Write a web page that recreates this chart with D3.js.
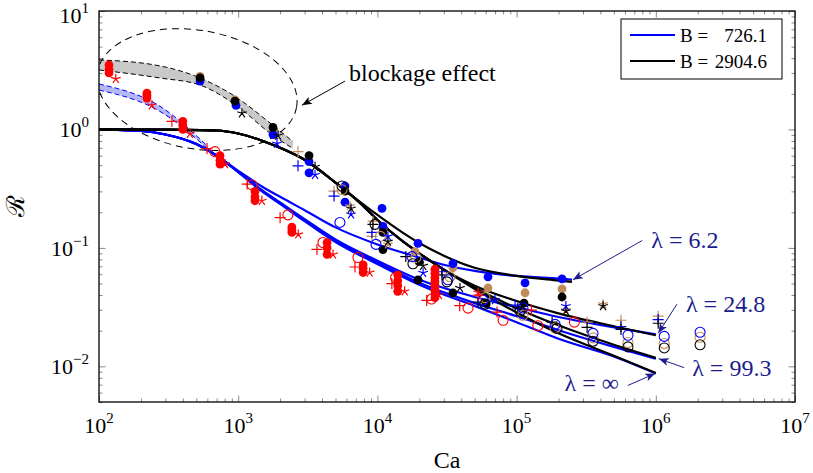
<!DOCTYPE html>
<html>
<head>
<meta charset="utf-8">
<script src="https://cdn.jsdelivr.net/npm/d3@7"></script>
<style>
body { margin: 0; background: #fff; }
svg text { font-family: "Liberation Serif", "Times New Roman", serif; }
</style>
</head>
<body>
<div id="chart"></div>
<script>
// axis ticks
var xMajor = [1e2, 1e3, 1e4, 1e5, 1e6, 1e7];
var yMajor = [1e-2, 1e-1, 1e0, 1e1];
var xExp = ["2", "3", "4", "5", "6", "7"];
var yExp = ["\u22122", "\u22121", "0", "1"];

// model curves [Ca, R], B = 726.1 (blue)
var blue62 = [[1e2,1],[2e2,0.97],[3e2,0.906],[5e2,0.752],[7e2,0.60],[1e3,0.447],[1.5e3,0.327],[2e3,0.27],[3e3,0.208],[5e3,0.149],[1e4,0.107],[2e4,0.083],[3e4,0.072],[5e4,0.064],[1e5,0.058],[2e5,0.055],[2.5e5,0.054]];
var blue248 = [[1e2,1],[2e2,0.97],[3e2,0.906],[5e2,0.752],[7e2,0.60],[1e3,0.44],[1.5e3,0.304],[2e3,0.242],[3e3,0.175],[5e3,0.118],[1e4,0.078],[2e4,0.054],[5e4,0.0385],[1e5,0.0316],[2e5,0.0261],[5e5,0.0213],[1e6,0.0186]];
var blue993 = [[1e2,1],[2e2,0.97],[3e2,0.906],[5e2,0.752],[7e2,0.60],[1e3,0.438],[1.5e3,0.300],[2e3,0.238],[3e3,0.171],[5e3,0.115],[1e4,0.075],[2e4,0.0507],[5e4,0.0342],[1e5,0.0265],[2e5,0.0202],[5e5,0.0146],[1e6,0.0116]];
var blueInf = [[1e2,1],[2e2,0.97],[3e2,0.906],[5e2,0.752],[7e2,0.60],[1e3,0.436],[1.5e3,0.297],[2e3,0.235],[3e3,0.168],[5e3,0.112],[1e4,0.073],[2e4,0.0488],[5e4,0.0323],[1e5,0.0236],[2e5,0.0171],[5e5,0.0121],[1e6,0.0087]];

// model curves, B = 2904.6 (black)
var black62 = [[1e2,1],[3e2,0.995],[7e2,0.98],[1e3,0.924],[1.5e3,0.80],[2e3,0.70],[3e3,0.555],[5e3,0.356],[7.5e3,0.245],[1e4,0.19],[1.5e4,0.136],[2e4,0.11],[3e4,0.086],[5e4,0.068],[1e5,0.058],[2e5,0.053],[2.5e5,0.0516]];
var black248 = [[1e2,1],[3e2,0.995],[7e2,0.98],[1e3,0.924],[1.5e3,0.80],[2e3,0.70],[3e3,0.555],[5e3,0.356],[7.5e3,0.24],[1e4,0.172],[1.5e4,0.115],[2e4,0.09],[3e4,0.0655],[5e4,0.048],[1e5,0.0356],[2e5,0.028],[5e5,0.0218],[1e6,0.0183]];
var black993 = [[1e2,1],[3e2,0.995],[7e2,0.98],[1e3,0.924],[1.5e3,0.80],[2e3,0.70],[3e3,0.555],[5e3,0.356],[7.5e3,0.24],[1e4,0.172],[1.5e4,0.115],[2e4,0.09],[3e4,0.0655],[5e4,0.046],[1e5,0.031],[2e5,0.0222],[5e5,0.0152],[1e6,0.0118]];
var blackInf = [[1e2,1],[3e2,0.995],[7e2,0.98],[1e3,0.924],[1.5e3,0.80],[2e3,0.70],[3e3,0.555],[5e3,0.356],[7.5e3,0.24],[1e4,0.172],[1.5e4,0.115],[2e4,0.09],[3e4,0.0655],[5e4,0.045],[1e5,0.0285],[2e5,0.019],[5e5,0.0123],[1e6,0.0088]];

// blockage bands (dashed)
var grayUpper = [[1e2,3.87],[274,3.44],[532,2.72],[918,1.95],[1780,1.08],[2476,0.79]];
var grayLower = [[1e2,3.18],[274,2.72],[532,2.37],[918,1.67],[1780,0.89],[2476,0.69]];
var blueUpper = [[1e2,2.42],[274,1.57],[597,0.73]];
var blueLower = [[1e2,2.15],[274,1.42],[627,0.66]];

// experiments, B = 726.1 (red)
var redDot = [[118,3.5],[118,3.2],[118,3.0],[221,2.03],[221,1.93],[221,1.84],[400,1.17],[400,1.08],[400,1.0],[740,0.60],[740,0.55],[740,0.51],[1320,0.30],[1320,0.27],[1320,0.25],[2430,0.15],[2430,0.142],[2430,0.135],[4350,0.111],[4350,0.1],[4350,0.088],[7900,0.072],[7900,0.067],[7900,0.062],[14000,0.059],[14000,0.053],[14000,0.048],[14000,0.043],[25900,0.066],[25900,0.061],[25900,0.056],[25900,0.052],[25900,0.048],[25900,0.044],[25900,0.041],[25900,0.038]];
var redCircle = [[680,0.65],[1255,0.34],[2275,0.19],[4060,0.111],[7250,0.083],[13500,0.056],[24500,0.037],[44800,0.031],[80000,0.0245],[142000,0.022],[260000,0.0236]];
var redPlus = [[334,1.17],[597,0.689],[1160,0.346],[2000,0.18],[3680,0.097],[6900,0.069],[12700,0.05],[22600,0.036],[39000,0.0325],[53000,0.04],[72300,0.0287],[128000,0.0298]];
var redStar = [[132,2.67],[240,1.6],[450,0.92],[804,0.51],[1480,0.25],[2700,0.13],[4800,0.088],[8800,0.062],[15700,0.043],[27700,0.04],[53000,0.042]];

// experiments, B = 2904.6
var brownDot = [[532,2.8],[948,1.78],[1778,0.98],[10960,0.145],[18600,0.093],[34900,0.068],[62300,0.0459],[115000,0.0418],[212000,0.045]];
var blueDot = [[532,2.56],[964,1.60],[1778,0.906],[3228,0.534],[3228,0.43],[5850,0.333],[5850,0.243],[10790,0.216],[10960,0.152],[19580,0.109],[34900,0.0735],[62300,0.057],[115000,0.0507],[212000,0.0548]];
var blackDot = [[532,2.72],[948,1.73],[1778,1.04],[3228,0.60],[5850,0.302],[10960,0.135],[10960,0.0968],[19900,0.0765],[19580,0.0538],[34900,0.0416],[60200,0.0342],[113000,0.0342],[212000,0.0385]];
var blackStar = [[1064,1.37],[1932,0.889],[3565,0.484],[6460,0.215],[11900,0.113],[21300,0.0707],[39200,0.0459],[226000,0.0292],[418000,0.0323]];
var blueStar = [[1900,0.76],[3565,0.414],[6460,0.192],[11900,0.125],[21300,0.0616],[70000,0.0363],[226000,0.0323]];
var brownStar = [[6350,0.225],[11900,0.107],[226000,0.0298],[418000,0.0335]];
var blackPlus = [[9290,0.158],[16000,0.0844],[29100,0.0592],[52800,0.0348],[102000,0.0311],[180000,0.0236],[321000,0.0213],[562000,0.0205],[1.04e6,0.0231]];
var bluePlus = [[2690,0.493],[4880,0.274],[9140,0.135],[29100,0.0629],[97500,0.0329],[562000,0.0217],[1.04e6,0.0248]];
var brownPlus = [[2690,0.65],[4880,0.302],[9290,0.168],[9140,0.125],[321000,0.0236],[562000,0.0245],[1.04e6,0.0265]];
var blackCircle = [[5570,0.333],[9610,0.158],[18000,0.0735],[31600,0.0517],[59300,0.0335],[106000,0.0292],[195000,0.0209],[354000,0.0163],[631000,0.0146],[1.15e6,0.0143],[2.08e6,0.0152]];
var blueCircle = [[5380,0.164],[9770,0.107],[17700,0.0844],[32100,0.0538],[57400,0.0363],[111000,0.0311],[189000,0.0226],[354000,0.019],[631000,0.0183],[1.15e6,0.0179],[2.08e6,0.0194]];
var brownCircle = [[5570,0.31],[10500,0.125],[18900,0.0828],[33200,0.057],[59300,0.038],[111000,0.027],[189000,0.021],[354000,0.0174],[631000,0.0159],[1.15e6,0.0156],[2.08e6,0.0176]];

var legendItems = [["#0000ff", "726.1"], ["#000000", "2904.6"]];

var BROWN = "#c08c5c", NAVY = "#1c1c8e";
var SERIF = "Liberation Serif, Times New Roman, serif";

var width = 813, height = 473;
var mLeft = 99, mRight = 795, mTop = 11, mBottom = 402;

var svg = d3.select("#chart").append("svg")
  .attr("width", width)
  .attr("height", height)
  .attr("font-family", SERIF);

var x = d3.scaleLog().domain([1e2, 1e7]).range([mLeft, mRight]);
var y = d3.scaleLog().domain([5e-3, 10]).range([mBottom, mTop]);

var defs = svg.append("defs");
defs.append("clipPath").attr("id", "clip")
  .append("rect").attr("x", mLeft).attr("y", mTop)
  .attr("width", mRight - mLeft).attr("height", mBottom - mTop);

function arrowHead(id, color) {
  defs.append("marker")
    .attr("id", id)
    .attr("viewBox", "0 0 10 8")
    .attr("refX", 10).attr("refY", 4)
    .attr("markerWidth", 11).attr("markerHeight", 8)
    .attr("markerUnits", "userSpaceOnUse")
    .attr("orient", "auto")
    .append("path").attr("d", "M0,0L10,4L0,8L2.5,4Z").attr("fill", color);
}
arrowHead("arrNavy", NAVY);
arrowHead("arrBlack", "#000");

// minor ticks
function minors(lo, hi) {
  var out = [];
  for (var k = -3; k < 7; k++) {
    for (var m = 2; m < 10; m++) {
      var v = m * Math.pow(10, k);
      if (v >= lo * 0.999 && v <= hi * 1.001) out.push(v);
    }
  }
  return out;
}
var xMinor = minors(1e2, 1e7), yMinor = minors(5e-3, 10);

function tickAxis(axisFn, scale, pos, vals, size) {
  var g = svg.append("g")
    .attr("transform", pos)
    .call(axisFn(scale).tickValues(vals).tickSize(-size).tickFormat(""));
  g.select(".domain").remove();
  g.selectAll(".tick line").attr("stroke", "#8a8a8a").attr("stroke-width", 1);
}
[[d3.axisBottom, x, "translate(0," + mBottom + ")"],
 [d3.axisTop, x, "translate(0," + mTop + ")"],
 [d3.axisLeft, y, "translate(" + mLeft + ",0)"],
 [d3.axisRight, y, "translate(" + mRight + ",0)"]].forEach(function(a) {
  var isX = a[1] === x;
  tickAxis(a[0], a[1], a[2], isX ? xMajor : yMajor, 6.5);
  tickAxis(a[0], a[1], a[2], isX ? xMinor : yMinor, 3.5);
});

// tick labels with superscripts
xMajor.forEach(function(v, i) {
  var t = svg.append("text")
    .attr("x", x(v)).attr("y", 433)
    .attr("text-anchor", "middle")
    .attr("font-size", 22);
  t.append("tspan").text("10");
  t.append("tspan").attr("dy", -10).attr("font-size", 15).text(xExp[i]);
});
yMajor.forEach(function(v, i) {
  var t = svg.append("text")
    .attr("x", 89).attr("y", Math.max(y(v) + 8, 23))
    .attr("text-anchor", "end")
    .attr("font-size", 22);
  t.append("tspan").text("10");
  t.append("tspan").attr("dy", -10).attr("font-size", 15).text(yExp[i]);
});

svg.append("text")
  .attr("x", (mLeft + mRight) / 2).attr("y", 468)
  .attr("text-anchor", "middle").attr("font-size", 24)
  .text("Ca");
svg.append("text")
  .attr("transform", "translate(24,206) rotate(-90)")
  .attr("text-anchor", "middle").attr("font-size", 25)
  .text("\u211B");

var plot = svg.append("g").attr("clip-path", "url(#clip)");

var line = d3.line()
  .x(function(d) { return x(d[0]); })
  .y(function(d) { return y(d[1]); })
  .curve(d3.curveMonotoneX);

function band(up, lo, fill, stroke) {
  var d = line(up) + "L" + line(lo.slice().reverse()).slice(1) + "Z";
  plot.append("path").attr("d", d).attr("fill", fill).attr("stroke", "none");
  [up, lo].forEach(function(s) {
    plot.append("path").attr("d", line(s))
      .attr("fill", "none").attr("stroke", stroke)
      .attr("stroke-width", 1).attr("stroke-dasharray", "5,3");
  });
}
band(grayUpper, grayLower, "#c9c9c9", "#000");
band(blueUpper, blueLower, "#b4b8f4", "#0000ff");

// blockage ellipse
var ell = {center: [506, 2.17], rx: 0.726, ry: 0.5, angle: 10};
var ecx = x(ell.center[0]), ecy = y(ell.center[1]);
plot.append("ellipse")
  .attr("cx", 0).attr("cy", 0)
  .attr("rx", x(Math.pow(10, 2 + ell.rx)) - x(1e2))
  .attr("ry", y(1) - y(Math.pow(10, ell.ry)))
  .attr("transform", "translate(" + ecx + "," + ecy + ") rotate(" + ell.angle + ")")
  .attr("fill", "none").attr("stroke", "#000")
  .attr("stroke-width", 1).attr("stroke-dasharray", "7,5");

[blue62, blue248, blue993, blueInf].forEach(function(s) {
  plot.append("path").attr("d", line(s))
    .attr("fill", "none").attr("stroke", "#0000ff").attr("stroke-width", 2.2);
});
[black62, black248, black993, blackInf].forEach(function(s) {
  plot.append("path").attr("d", line(s))
    .attr("fill", "none").attr("stroke", "#000").attr("stroke-width", 2.2);
});

// markers
var starPath = d3.range(5).map(function(i) {
  var a = -Math.PI / 2 + i * 2 * Math.PI / 5;
  return "M0,0L" + (5 * Math.cos(a)).toFixed(2) + "," + (5 * Math.sin(a)).toFixed(2);
}).join("");

function marks(data, kind, color) {
  var g = svg.append("g");
  var sel = g.selectAll(".m").data(data).enter();
  if (kind === "dot") {
    sel.append("circle").attr("r", 4.4).attr("fill", color)
      .attr("cx", function(d) { return x(d[0]); })
      .attr("cy", function(d) { return y(d[1]); });
  } else if (kind === "circle") {
    sel.append("circle").attr("r", 5).attr("fill", "none")
      .attr("stroke", color).attr("stroke-width", 1.1)
      .attr("cx", function(d) { return x(d[0]); })
      .attr("cy", function(d) { return y(d[1]); });
  } else {
    sel.append("path")
      .attr("d", kind === "plus" ? "M-5.5,0H5.5M0,-5.5V5.5" : starPath)
      .attr("stroke", color).attr("stroke-width", 1.2).attr("fill", "none")
      .attr("transform", function(d) { return "translate(" + x(d[0]) + "," + y(d[1]) + ")"; });
  }
}
marks(brownDot, "dot", BROWN);
marks(blueDot, "dot", "#0000ff");
marks(blackDot, "dot", "#000");
marks(brownPlus, "plus", BROWN);
marks(bluePlus, "plus", "#0000ff");
marks(blackPlus, "plus", "#000");
marks(brownCircle, "circle", BROWN);
marks(blueCircle, "circle", "#0000ff");
marks(blackCircle, "circle", "#000");
marks(brownStar, "star", BROWN);
marks(blueStar, "star", "#0000ff");
marks(blackStar, "star", "#000");
marks(redDot, "dot", "#ff0000");
marks(redCircle, "circle", "#ff0000");
marks(redPlus, "plus", "#ff0000");
marks(redStar, "star", "#ff0000");

// frame
svg.append("rect")
  .attr("x", mLeft).attr("y", mTop)
  .attr("width", mRight - mLeft).attr("height", mBottom - mTop)
  .attr("fill", "none").attr("stroke", "#000").attr("stroke-width", 1.3);

// legend
var lg = svg.append("g").attr("transform", "translate(" + (mRight - 174) + "," + (mTop + 8) + ")");
lg.append("rect").attr("width", 161).attr("height", 60)
  .attr("fill", "#fff").attr("stroke", "#000").attr("stroke-width", 1);
legendItems.forEach(function(it, i) {
  var yy = 16 + i * 26;
  lg.append("line").attr("x1", 9).attr("x2", 54).attr("y1", yy).attr("y2", yy)
    .attr("stroke", it[0]).attr("stroke-width", 2);
  lg.append("text").attr("x", 59).attr("y", yy + 6.5).attr("font-size", 19).text("B =");
  lg.append("text").attr("x", 146).attr("y", yy + 6.5).attr("font-size", 19)
    .attr("text-anchor", "end").text(it[1]);
});

// annotations
var notes = [
  {label: "blockage effect", tail: [5850, 2.56], tip: [2870, 1.6], dx: 4, dy: 0, anchor: "start", color: "#000", arrow: "arrBlack"},
  {label: "\u03bb = 6.2", tail: [8.0e5, 0.1155], tip: [2.54e5, 0.0538], dx: 9, dy: 8, anchor: "start", color: NAVY, arrow: "arrNavy"},
  {label: "\u03bb = 24.8", tail: [1.42e6, 0.0335], tip: [1.04e6, 0.019], dx: 9, dy: 8, anchor: "start", color: NAVY, arrow: "arrNavy"},
  {label: "\u03bb = 99.3", tail: [1.6e6, 0.00975], tip: [1.05e6, 0.0116], dx: 8, dy: 8, anchor: "start", color: NAVY, arrow: "arrNavy"},
  {label: "\u03bb = \u221e", tail: [6.3e5, 0.0069], tip: [9.9e5, 0.0087], dx: -9, dy: 6, anchor: "end", color: NAVY, arrow: "arrNavy"}
];
notes.forEach(function(n) {
  var tx = x(n.tail[0]), ty = y(n.tail[1]);
  svg.append("line")
    .attr("x1", tx).attr("y1", ty)
    .attr("x2", x(n.tip[0])).attr("y2", y(n.tip[1]))
    .attr("stroke", n.color).attr("stroke-width", 1)
    .attr("marker-end", "url(#" + n.arrow + ")");
  svg.append("text")
    .attr("x", tx + n.dx).attr("y", ty + n.dy)
    .attr("text-anchor", n.anchor).attr("font-size", 24)
    .attr("fill", n.color).text(n.label);
});
</script>
</body>
</html>
